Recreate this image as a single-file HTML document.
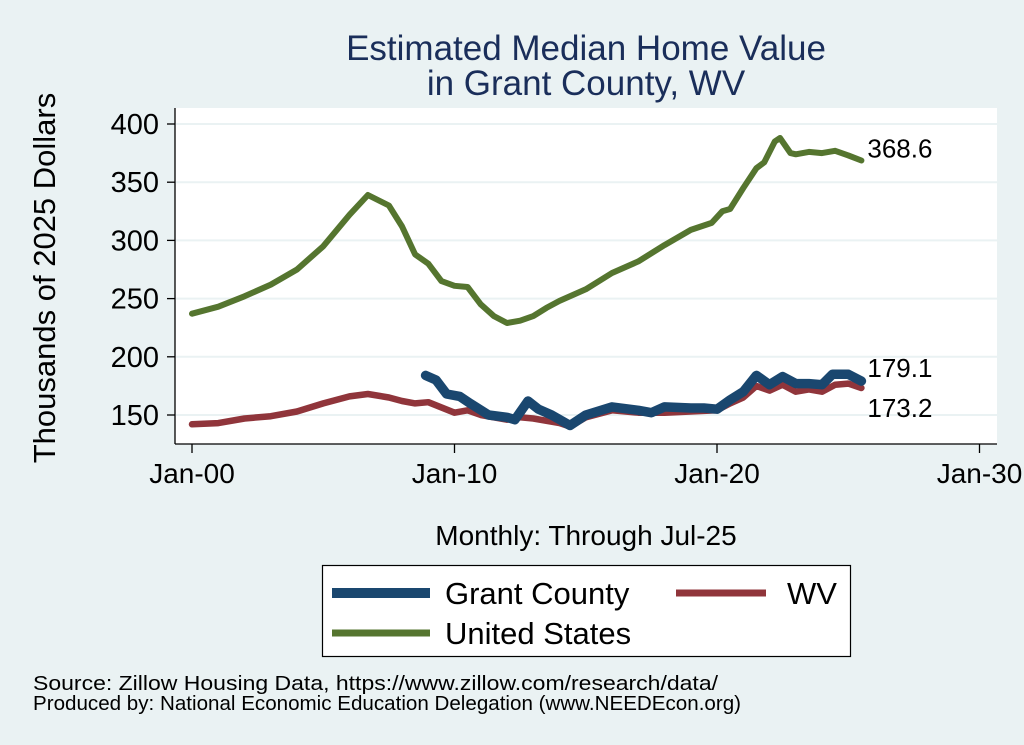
<!DOCTYPE html>
<html><head><meta charset="utf-8"><style>
html,body{margin:0;padding:0;background:#eaf2f3;}
svg{display:block;font-family:"Liberation Sans",Arial,sans-serif;}
</style></head><body>
<svg id="chart" width="1024" height="745" viewBox="0 0 1024 745">
<rect x="0" y="0" width="1024" height="745" fill="#eaf2f3"/>
<text x="586" y="60" text-anchor="middle" font-size="35" fill="#1a2e5a">Estimated Median Home Value</text>
<text x="586" y="95" text-anchor="middle" font-size="35" fill="#1a2e5a">in Grant County, WV</text>
<rect x="175" y="108" width="822" height="336" fill="#ffffff"/>
<g id="grid"></g>
<g id="yaxis"></g>
<g id="xaxis"></g>
<g id="series"></g>
<g id="labels"></g>
<text transform="translate(55,278) rotate(-90)" text-anchor="middle" font-size="31" fill="#000">Thousands of 2025 Dollars</text>
<text x="586" y="545" text-anchor="middle" font-size="28" fill="#000">Monthly: Through Jul-25</text>
<g>
<rect x="322.5" y="565.5" width="528" height="91" fill="#fff" stroke="#000" stroke-width="1.2"/>
<line x1="332" y1="593" x2="430" y2="593" stroke="#1a476f" stroke-width="10"/>
<text x="445" y="604" font-size="31">Grant County</text>
<line x1="676" y1="593" x2="766" y2="593" stroke="#90353b" stroke-width="7"/>
<text x="787" y="604" font-size="31">WV</text>
<line x1="332" y1="633" x2="430" y2="633" stroke="#55752f" stroke-width="7"/>
<text x="445" y="644" font-size="31">United States</text>
</g>
<text x="33" y="690" font-size="20.5" textLength="685" lengthAdjust="spacingAndGlyphs">Source: Zillow Housing Data, https://www.zillow.com/research/data/</text>
<text x="33" y="710" font-size="20.5" textLength="708" lengthAdjust="spacingAndGlyphs">Produced by: National Economic Education Delegation (www.NEEDEcon.org)</text>
</svg>
<script>
const yTicks=[150,200,250,300,350,400];
const xTickYears=[2000,2010,2020,2030];
const xTickLabels=["Jan-00","Jan-10","Jan-20","Jan-30"];
const usT=[2000,2001,2002,2003,2004,2005,2006,2006.7,2007.5,2008,2008.5,2009,2009.5,2010,2010.5,2011,2011.5,2012,2012.5,2013,2013.5,2014,2015,2016,2017,2018,2019,2019.8,2020.2,2020.5,2021,2021.5,2021.8,2022.2,2022.4,2022.8,2023,2023.5,2024,2024.5,2025,2025.5];
const usV=[237,243,252,262,275,295,322,339,330,312,288,280,265,261,260,245,235,229,231,235,242,248,258,272,282,296,309,315,325,327,345,362,367,385,388,375,374,376,375,377,373,368.6];
const wvT=[2000,2001,2002,2003,2004,2005,2006,2006.7,2007.5,2008,2008.5,2009,2010,2010.5,2011,2012,2012.5,2013,2014,2014.4,2015,2016,2017,2018,2019,2020,2020.5,2021,2021.5,2022,2022.5,2023,2023.5,2024,2024.5,2025,2025.5];
const wvV=[142,143,147,149,153,160,166,168,165,162,160,161,152,154,150,146,148,147,143,140,148,154,152,152,153,154,160,165,175,171,176,170,172,170,176,177,173.2];
const grT=[2008.9,2009.3,2009.7,2010.2,2010.6,2011.3,2012,2012.3,2012.8,2013.2,2013.7,2014.4,2015,2016,2017,2017.5,2018,2019,2019.5,2020,2020.5,2021,2021.5,2022,2022.5,2023,2023.5,2024,2024.4,2025,2025.5];
const grV=[184,180,168,166,160,150,148,146,162,155,150,141,150,157,154,152,157,156,156,155,163,170,184,176,183,177,177,176,185,185,179.1];
const endLabels=["368.6","179.1","173.2"];

const NS="http://www.w3.org/2000/svg";
const xs=t=>192+(t-2000)*26.25;
const ys=v=>415-(v-150)*1.164;
function mk(tag,attrs,parent){const e=document.createElementNS(NS,tag);for(const k in attrs)e.setAttribute(k,attrs[k]);parent.appendChild(e);return e;}
const grid=document.getElementById('grid'),ya=document.getElementById('yaxis'),xa=document.getElementById('xaxis'),se=document.getElementById('series'),lb=document.getElementById('labels');
mk('line',{x1:175,y1:108,x2:175,y2:444,stroke:'#000','stroke-width':1.3},ya);
mk('line',{x1:175,y1:444,x2:997,y2:444,stroke:'#000','stroke-width':1.3},xa);
yTicks.forEach(v=>{
 const g=mk('line',{x1:176,y1:ys(v),x2:997,y2:ys(v),stroke:'#eaf2f3','stroke-width':2},grid);
 
 
 mk('line',{x1:167,y1:ys(v),x2:175,y2:ys(v),stroke:'#000','stroke-width':1.3},ya);
 const t=mk('text',{x:159,y:ys(v)+10,'text-anchor':'end','font-size':29},ya);
 t.textContent=v;
 
 
});
xTickYears.forEach((yr,i)=>{
 mk('line',{x1:xs(yr),y1:444,x2:xs(yr),y2:453,stroke:'#000','stroke-width':1.3},xa);
 const t=mk('text',{x:xs(yr),y:483,'text-anchor':'middle','font-size':28},xa);
 t.textContent=xTickLabels[i];
 
 
});
function line(T,V,color,w,name){
 const d=T.map((t,i)=>(i?'L':'M')+xs(t).toFixed(1)+','+ys(V[i]).toFixed(1)).join('');
 const p=mk('path',{d:d,fill:'none',stroke:color,'stroke-width':w,'stroke-linejoin':'round','stroke-linecap':'round'},se);
 
 
}
line(usT,usV,'#55752f',6,'us-line');
line(wvT,wvV,'#90353b',6.5,'wv-line');
line(grT,grV,'#1a476f',9.5,'grant-county-line');
const lastX=xs(usT[usT.length-1]);
[[usV[usV.length-1],'us-end-label',-12],[grV[grV.length-1],'grant-end-label',-13],[wvV[wvV.length-1],'wv-end-label',20]].forEach((a,i)=>{
 const t=mk('text',{x:lastX+6,y:ys(a[0])+a[2]+9,'font-size':26},lb);
 t.textContent=endLabels[i];
 
 
});
</script>
</body></html>
